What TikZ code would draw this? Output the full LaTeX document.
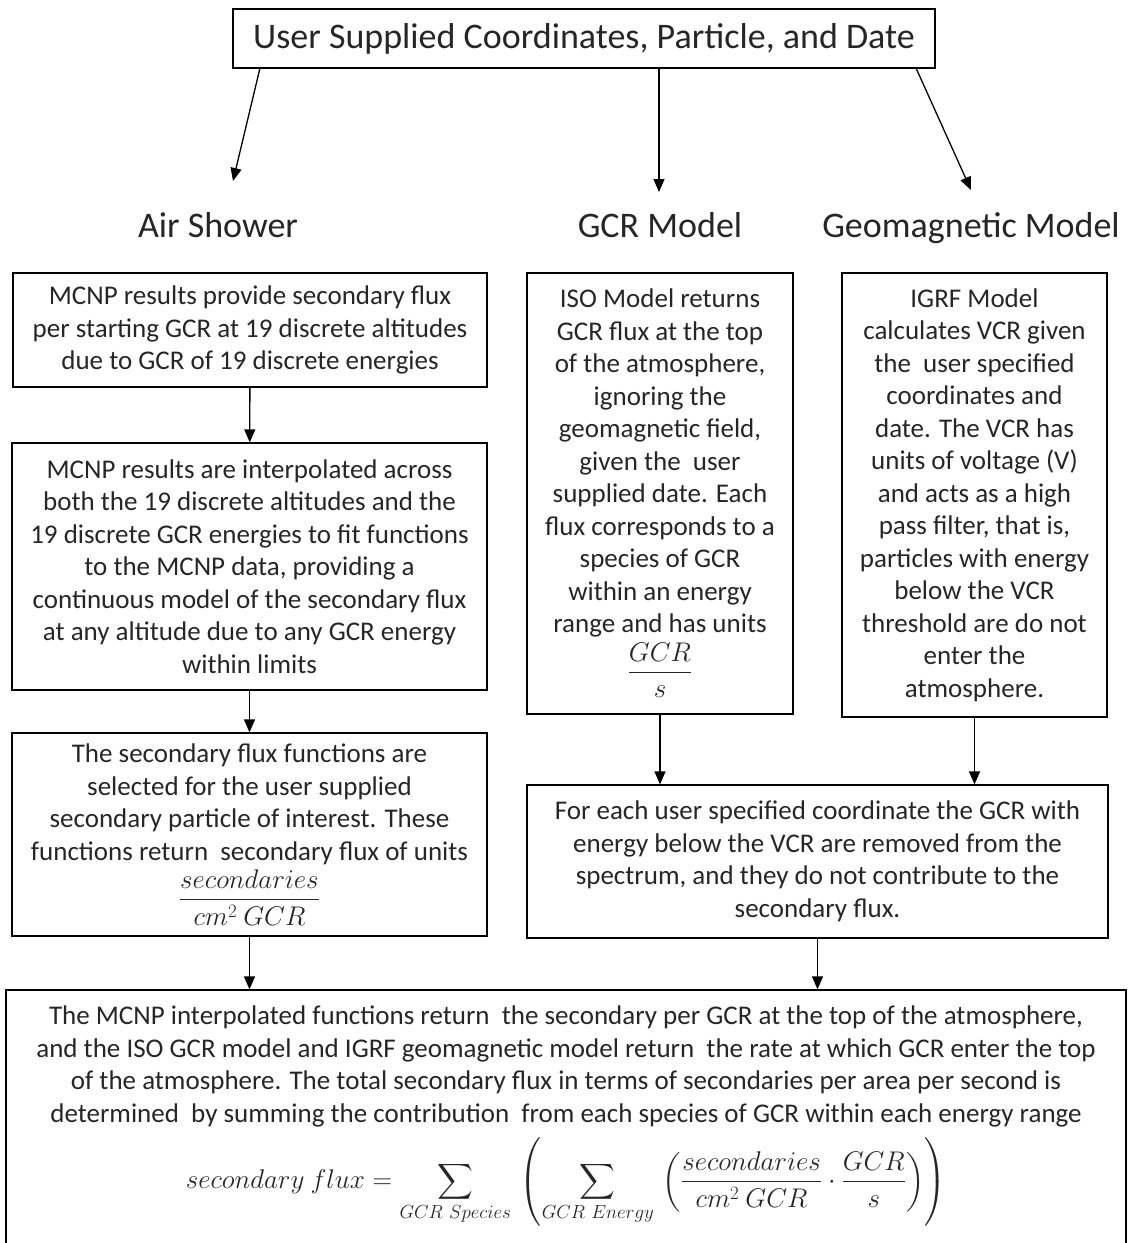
\RequirePackage{fix-cm}
\documentclass[tikz,border=0pt]{standalone}
\usepackage{amsmath}
\usepackage{fontspec}
\setmainfont{Carlito}
\usetikzlibrary{arrows.meta}
\tikzset{
  flowbox/.style={draw, line width=1.3pt, inner sep=0pt, align=center,
    font=\fontsize{27}{32.5}\selectfont, text=black!85},
  heading/.style={inner sep=0pt, anchor=base, font=\fontsize{36}{40}\selectfont, text=black!85},
  plaintext/.style={inner sep=0pt, align=center, font=\fontsize{27}{32.5}\selectfont, text=black!85},
  arr/.style={line width=1.3pt, -{Triangle[length=13pt,width=11pt]}},
}
\begin{document}
\begin{tikzpicture}[x=1pt,y=-1pt]
\useasboundingbox (0,0) rectangle (1131,1243);

\node[flowbox, minimum width=702, minimum height=59, font=\fontsize{36}{40}\selectfont] (top) at (584,38.5) {User Supplied Coordinates, Particle, and Date};

\node[heading] (hAir) at (218,237) {Air Shower};
\node[heading] (hGCR) at (660,237) {GCR Model};
\node[heading] (hGeo) at (971,237) {Geomagnetic Model};

\coordinate (sA) at (260,68);
\coordinate (tA) at (233,181);
\coordinate (sB) at (659,68);
\coordinate (tB) at (659,192);
\coordinate (sC) at (916,68);
\coordinate (tC) at (971,190);

\node[flowbox, minimum width=474, minimum height=114] (a1) at (250,330)
{MCNP results provide secondary flux\\per starting GCR at 19 discrete altitudes\\due to GCR of 19 discrete energies};

\node[flowbox, minimum width=475, minimum height=247] (a2) at (249.5,566.5)
{MCNP results are interpolated across\\both the 19 discrete altitudes and the\\19 discrete GCR energies to fit functions\\to the MCNP data, providing a\\continuous model of the secondary flux\\at any altitude due to any GCR energy\\within limits};

\node[flowbox, minimum width=475, minimum height=203] (a3) at (249.5,834.5)
{The secondary flux functions are\\selected for the user supplied\\secondary particle of interest. These\\functions return\ \ secondary flux of units\\[4pt]$\dfrac{secondaries}{cm^2\ GCR}$};

\node[flowbox, minimum width=266, minimum height=441] (g1) at (660,493.5)
{ISO Model returns\\GCR flux at the top\\of the atmosphere,\\ignoring the\\geomagnetic field,\\given the\ \ user\\supplied date. Each\\flux corresponds to a\\species of GCR\\within an energy\\range and has units\\[4pt]$\dfrac{GCR}{s}$};

\node[flowbox, minimum width=265, minimum height=444] (m1) at (974.5,495)
{IGRF Model\\calculates VCR given\\the\ \ user specified\\coordinates and\\date. The VCR has\\units of voltage (V)\\and acts as a high\\pass filter, that is,\\particles with energy\\below the VCR\\threshold are do not\\enter the\\atmosphere.};

\node[flowbox, minimum width=581, minimum height=153] (c1) at (817.5,861.5)
{For each user specified coordinate the GCR with\\energy below the VCR are removed from the\\spectrum, and they do not contribute to the\\secondary flux.};

\node[draw, line width=1.3pt, inner sep=0pt, minimum width=1120, minimum height=270] (bot) at (566,1125) {};
\node[plaintext, anchor=north] (botT) at (566,1006)
{The MCNP interpolated functions return\ \ the secondary per GCR at the top of the atmosphere,\\and the ISO GCR model and IGRF geomagnetic model return\ \ the rate at which GCR enter the top\\of the atmosphere. The total secondary flux in terms of secondaries per area per second is\\determined\ \ by summing the contribution\ \ from each species of GCR within each energy range\\[9pt]
$\displaystyle secondary\ flux=\sum_{GCR\ Species}\,\left(\sum_{GCR\ Energy}\,\left(\frac{secondaries}{cm^2\ GCR}\cdot\frac{GCR}{s}\right)\right)$};

\draw[arr] (sA) -- (tA);
\draw[arr] (sB) -- (tB);
\draw[arr] (sC) -- (tC);
\draw[arr] (a1) -- (a2);
\draw[arr] (a2) -- (a3);
\draw[arr] (g1) -- (g1 |- c1.north);
\draw[arr] (m1) -- (m1 |- c1.north);
\draw[arr] (a3) -- (a3 |- bot.north);
\draw[arr] (c1) -- (c1 |- bot.north);
\end{tikzpicture}
\end{document}
